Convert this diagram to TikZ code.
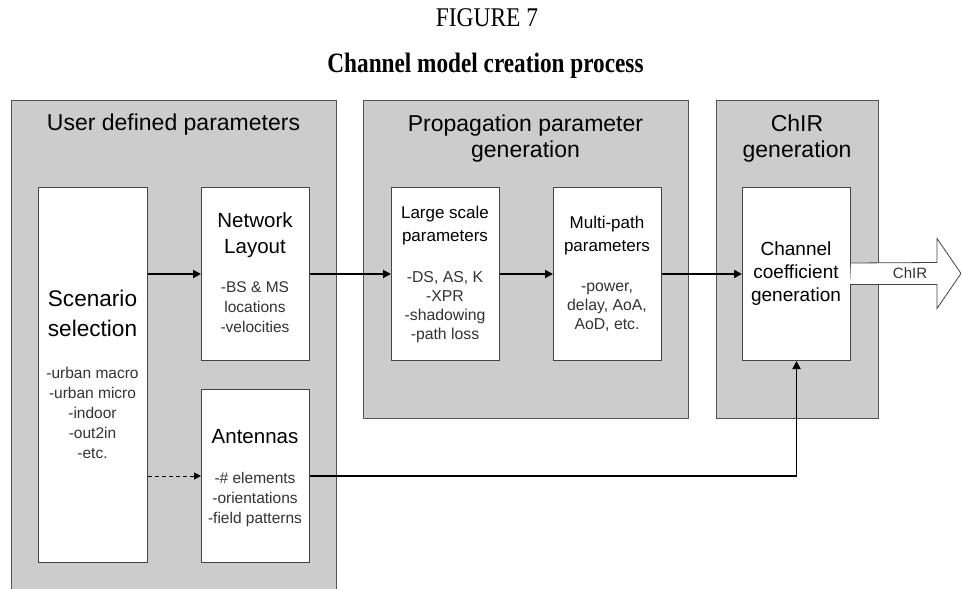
\documentclass[tikz,border=0pt]{standalone}
\usepackage{fontspec}
\usepackage{graphicx}
\setmainfont{Liberation Sans}
\newfontfamily\capserif{Liberation Serif}
\usetikzlibrary{arrows.meta}

\definecolor{panelfill}{HTML}{CCCCCC}
\definecolor{panelline}{HTML}{555555}
\definecolor{boxline}{HTML}{444444}
\definecolor{bodytext}{HTML}{333333}

\newcommand{\fs}[2]{\fontsize{#1}{#2}\selectfont}

\begin{document}
\begin{tikzpicture}[x=1pt,y=-1pt,
  panel/.style={draw=panelline, fill=panelfill, line width=1pt, inner sep=0pt, anchor=north west},
  box/.style={draw=boxline, fill=white, line width=1pt, inner sep=0pt, anchor=north west},
  % multi-line labels are placed by the baseline of their last line
  lbl/.style={align=center, anchor=base, inner sep=0pt},
  head/.style={lbl, text=black},
  body/.style={lbl, text=bodytext, font=\fs{15.8}{19}},
  flow/.style={line width=1.8pt, -{Triangle[length=8pt,width=8pt]}},
  hint/.style={line width=1pt, dashed, dash pattern=on 4pt off 3pt, -{Triangle[length=7pt,width=7pt]}}
]
\useasboundingbox (0,0) rectangle (962,589);

% caption
\node[lbl, font=\capserif\fs{27}{30}] (fignum) at (487,26) {\scalebox{0.87}[1]{FIGURE 7}};
\node[lbl, font=\capserif\bfseries\fs{28}{30}] (figtitle) at (485.5,72) {\scalebox{0.83}[1]{Channel model creation process}};

% stage panels
\node[panel, minimum width=325pt, minimum height=500pt] (user) at (11,100) {};
\node[panel, minimum width=325pt, minimum height=318pt] (prop) at (363,100) {};
\node[panel, minimum width=162pt, minimum height=318pt] (chir) at (716,100) {};

\node[head, font=\fs{23}{26}] (usertitle) at (173.5,130) {User defined parameters};
\node[head, font=\fs{23}{26}] (proptitle) at (525.5,157) {Propagation parameter\\generation};
\node[head, font=\fs{23}{26}] (chirtitle) at (797,157) {ChIR\\generation};

% blocks
\node[box, minimum width=109pt, minimum height=375pt] (scen) at (38,187) {};
\node[box, minimum width=108pt, minimum height=173pt] (net) at (201,187) {};
\node[box, minimum width=108pt, minimum height=173pt] (ant) at (201,389) {};
\node[box, minimum width=108pt, minimum height=173pt] (lsp) at (391,187) {};
\node[box, minimum width=108pt, minimum height=173pt] (mpp) at (553,187) {};
\node[box, minimum width=108pt, minimum height=173pt] (chan) at (742,187) {};

% block texts
\node[head, font=\fs{22.6}{30}] (scenhead) at (92.5,336) {Scenario\\selection};
\node[body, font=\fs{15.5}{20}] (scenbody) at (92.5,458) {-urban macro\\-urban micro\\-indoor\\-out2in\\-etc.};

\node[head, font=\fs{20.5}{26}] (nethead) at (255,253) {Network\\Layout};
\node[body, font=\fs{15.5}{20}] (netbody) at (255,332) {-BS \& MS\\locations\\-velocities};

\node[head, font=\fs{20.5}{26}] (anthead) at (255,443) {Antennas};
\node[body, font=\fs{15.5}{20}] (antbody) at (255,523) {-\# elements\\-orientations\\-field patterns};

\node[head, font=\fs{17}{23}] (lsphead) at (445,241) {Large scale\\parameters};
\node[body] (lspbody) at (445,339) {-DS, AS, K\\-XPR\\-shadowing\\-path loss};

\node[head, font=\fs{17}{23}] (mpphead) at (607,251) {Multi-path\\parameters};
\node[body] (mppbody) at (607,329) {-power,\\delay, AoA,\\AoD, etc.};

\node[head, font=\fs{19}{23}] (chanhead) at (796,301) {Channel\\coefficient\\generation};

% flow between blocks
\draw[flow] (scen.east |- net.west) -- (net.west);
\draw[flow] (net.east) -- (lsp.west);
\draw[flow] (lsp.east) -- (mpp.west);
\draw[flow] (mpp.east) -- (chan.west);
\draw[hint] (scen.east |- ant.west) -- (ant.west);
\draw[flow] (ant.east) -| (chan.south);

% output arrow
\coordinate (outtip) at (961,273.5);
\filldraw[fill=white, draw=boxline, line width=0.8pt]
  (chan.east) ++(0,-11) -- (937,262.5) -- (937,238.5) -- (outtip)
  -- (937,308.5) -- (937,284.5) -- (850,284.5);
\node[lbl, text=bodytext, font=\fs{15}{18}] (outlabel) at (910,278) {ChIR};
\end{tikzpicture}
\end{document}
